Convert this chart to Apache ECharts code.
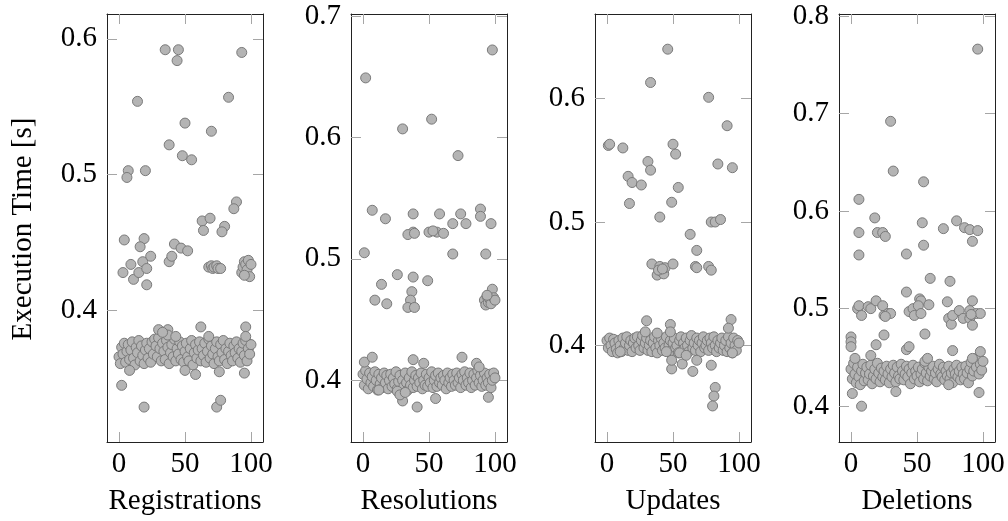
<!DOCTYPE html>
<html>
<head>
<meta charset="utf-8">
<script src="https://cdn.jsdelivr.net/npm/echarts@6/dist/echarts.min.js"></script>
<style>
html, body { margin: 0; padding: 0; background: #fff; }
#chart { width: 1008px; height: 521px; }
</style>
</head>
<body>
<div id="chart"></div>
<script>
// panel names (x axis titles)
const panelNames = ['Registrations', 'Resolutions', 'Updates', 'Deletions'];
const yAxisTitle = 'Execution Time [s]';
// tick labels
const xTicks = [0, 50, 100];
const yTicks = [
    [0.4, 0.5, 0.6],
    [0.4, 0.5, 0.6, 0.7],
    [0.4, 0.5, 0.6],
    [0.4, 0.5, 0.6, 0.7, 0.8]
];

// main band, one value per run 0..100
const regBand = [
    0.366,0.361,0.373,0.368,0.376,0.362,0.370,0.375,0.364,0.371,
    0.377,0.365,0.360,0.373,0.369,0.378,0.363,0.374,0.367,0.361,
    0.371,0.376,0.365,0.372,0.362,0.377,0.368,0.379,0.374,0.366,
    0.380,0.372,0.363,0.376,0.370,0.364,0.378,0.373,0.361,0.369,
    0.375,0.366,0.379,0.363,0.372,0.368,0.377,0.364,0.374,0.362,
    0.370,0.376,0.366,0.363,0.372,0.378,0.360,0.369,0.375,0.365,
    0.371,0.377,0.363,0.372,0.367,0.376,0.362,0.370,0.379,0.365,
    0.374,0.368,0.361,0.372,0.377,0.366,0.363,0.375,0.369,0.378,
    0.364,0.372,0.361,0.370,0.376,0.367,0.363,0.374,0.369,0.377,
    0.365,0.372,0.362,0.370,0.376,0.367,0.378,0.363,0.372,0.368,
    0.375
];
// [run, seconds]
const regOut = [
    [35,0.592],[45,0.592],[44,0.584],[93,0.590],[14,0.554],[83,0.557],[50,0.538],[70,0.532],
    [38,0.522],[48,0.514],[55,0.511],[7,0.503],[6,0.498],[20,0.503],[89,0.480],[87,0.475],
    [63,0.466],[69,0.468],[80,0.462],[64,0.459],[78,0.458],[4,0.452],[19,0.453],[16,0.447],
    [9,0.434],[3,0.428],[11,0.423],[15,0.428],[18,0.436],[21,0.431],[24,0.440],[21,0.419],
    [38,0.436],[40,0.440],[42,0.449],[47,0.446],[52,0.444],[68,0.432],[70,0.433],[71,0.431],
    [72,0.432],[74,0.433],[75,0.431],[77,0.431],[93,0.428],[94,0.432],[95,0.436],[96,0.434],
    [97,0.430],[98,0.437],[99,0.425],[100,0.434],[95,0.426],
    [2,0.345],[19,0.329],[74,0.329],[77,0.334],[8,0.356],[50,0.356],[58,0.353],[76,0.355],
    [95,0.354],[30,0.386],[37,0.386],[37,0.382],[62,0.388],[68,0.381],[96,0.388],[43,0.381],
    [33,0.384],[96,0.381]
];

const resBand = [
    0.405,0.396,0.408,0.401,0.393,0.406,0.398,0.403,0.395,0.407,
    0.400,0.392,0.405,0.397,0.402,0.394,0.406,0.398,0.404,0.393,
    0.400,0.405,0.395,0.402,0.397,0.407,0.393,0.399,0.404,0.391,
    0.400,0.395,0.406,0.398,0.392,0.402,0.396,0.407,0.394,0.400,
    0.404,0.395,0.402,0.398,0.406,0.393,0.400,0.396,0.405,0.395,
    0.402,0.398,0.407,0.394,0.400,0.404,0.395,0.406,0.398,0.402,
    0.396,0.404,0.400,0.393,0.406,0.398,0.402,0.395,0.405,0.400,
    0.396,0.406,0.398,0.402,0.394,0.405,0.400,0.407,0.396,0.402,
    0.398,0.406,0.394,0.400,0.405,0.396,0.402,0.408,0.398,0.404,
    0.395,0.400,0.406,0.396,0.402,0.398,0.405,0.394,0.400,0.406,
    0.402
];
const resOut = [
    [2,0.649],[98,0.672],[52,0.615],[30,0.607],[72,0.585],[7,0.540],[17,0.533],[38,0.537],
    [58,0.537],[74,0.537],[89,0.541],[89,0.535],[68,0.529],[78,0.529],[97,0.529],[38,0.522],
    [50,0.522],[56,0.522],[34,0.520],[39,0.521],[53,0.523],[61,0.521],[1,0.505],[68,0.504],
    [93,0.504],[26,0.487],[14,0.479],[38,0.485],[49,0.482],[9,0.466],[18,0.463],[37,0.473],
    [36,0.466],[34,0.460],[39,0.460],[98,0.475],[92,0.466],[93,0.462],[94,0.469],[95,0.464],
    [96,0.467],[97,0.463],[99,0.468],[100,0.466],[94,0.470],
    [1,0.415],[7,0.419],[38,0.417],[46,0.414],[75,0.419],[86,0.414],[88,0.411],[26,0.391],
    [30,0.383],[41,0.378],[55,0.385],[95,0.386],[12,0.392],[28,0.388],[32,0.390]
];

const updBand = [
    0.404,0.398,0.406,0.400,0.395,0.405,0.402,0.397,0.394,0.404,
    0.400,0.395,0.406,0.398,0.402,0.407,0.396,0.400,0.404,0.395,
    0.402,0.406,0.398,0.407,0.400,0.396,0.404,0.408,0.398,0.402,
    0.406,0.396,0.400,0.404,0.395,0.402,0.407,0.398,0.394,0.404,
    0.400,0.406,0.396,0.402,0.398,0.407,0.395,0.400,0.404,0.396,
    0.402,0.406,0.398,0.400,0.394,0.404,0.407,0.396,0.402,0.398,
    0.406,0.400,0.395,0.404,0.408,0.398,0.402,0.396,0.406,0.400,
    0.404,0.395,0.402,0.407,0.398,0.400,0.404,0.396,0.406,0.402,
    0.398,0.407,0.400,0.395,0.404,0.398,0.402,0.406,0.396,0.400,
    0.404,0.395,0.407,0.398,0.402,0.394,0.406,0.400,0.396,0.404,
    0.402
];
const updOut = [
    [46,0.640],[33,0.613],[77,0.601],[91,0.578],[1,0.562],[2,0.563],[12,0.560],[50,0.563],
    [52,0.555],[31,0.549],[33,0.542],[84,0.547],[95,0.544],[16,0.537],[19,0.532],[26,0.530],
    [54,0.528],[17,0.515],[49,0.516],[40,0.504],[79,0.500],[82,0.500],[86,0.502],[63,0.490],
    [68,0.477],[67,0.464],[68,0.463],[77,0.464],[79,0.461],[34,0.466],[38,0.457],[40,0.464],
    [41,0.460],[43,0.458],[44,0.463],[50,0.466],[39,0.461],[42,0.462],
    [30,0.420],[29,0.411],[48,0.417],[48,0.411],[94,0.421],[92,0.414],[38,0.410],[49,0.381],
    [49,0.388],[57,0.385],[65,0.379],[68,0.388],[79,0.384],[82,0.366],[81,0.359],[80,0.351],
    [55,0.394],[95,0.394],[60,0.392],[10,0.395],[45,0.395]
];

const delBand = [
    0.438,0.428,0.444,0.433,0.424,0.440,0.430,0.422,0.436,0.443,
    0.426,0.434,0.440,0.427,0.433,0.442,0.423,0.431,0.438,0.428,
    0.444,0.434,0.425,0.439,0.430,0.436,0.427,0.441,0.433,0.424,
    0.438,0.430,0.442,0.434,0.425,0.440,0.431,0.428,0.443,0.436,
    0.427,0.433,0.441,0.430,0.438,0.423,0.434,0.442,0.428,0.436,
    0.431,0.440,0.425,0.433,0.438,0.428,0.444,0.434,0.426,0.440,
    0.431,0.436,0.441,0.428,0.434,0.425,0.438,0.443,0.433,0.430,
    0.440,0.427,0.436,0.431,0.441,0.428,0.434,0.424,0.438,0.433,
    0.442,0.430,0.436,0.427,0.440,0.433,0.428,0.441,0.434,0.424,
    0.438,0.445,0.431,0.436,0.448,0.440,0.450,0.433,0.443,0.437,
    0.446
];
const delOut = [
    [96,0.766],[30,0.692],[32,0.641],[55,0.630],[6,0.612],[18,0.593],[54,0.588],[80,0.590],
    [70,0.582],[86,0.583],[90,0.581],[96,0.580],[6,0.578],[20,0.578],[24,0.578],[26,0.574],
    [92,0.569],[6,0.555],[42,0.556],[55,0.565],[60,0.531],[75,0.528],[42,0.517],[52,0.510],
    [53,0.508],[59,0.504],[73,0.507],[92,0.508],
    [5,0.500],[6,0.503],[8,0.493],[13,0.502],[15,0.500],[19,0.508],[24,0.503],[25,0.493],
    [28,0.495],[30,0.495],[26,0.492],[44,0.497],[47,0.500],[48,0.493],[51,0.503],[53,0.495],
    [74,0.490],[76,0.484],[77,0.493],[82,0.498],[85,0.490],[90,0.498],[90,0.490],[92,0.483],
    [95,0.495],[98,0.495],[91,0.494],
    [0,0.471],[0,0.466],[0,0.461],[25,0.473],[56,0.474],[19,0.463],[42,0.458],[44,0.461],
    [56,0.446],[58,0.449],[77,0.457],[98,0.456],[3,0.449],[15,0.452],[92,0.449],
    [1,0.413],[8,0.400],[34,0.415],[97,0.414],[74,0.422]
];

const bands = [regBand, resBand, updBand, delBand];
const outliers = [regOut, resOut, updOut, delOut];

// layout
const yRange = [[0.3033, 0.6183], [0.3492, 0.7016], [0.3218, 0.6685], [0.3633, 0.802]];
const font = 'Liberation Serif';
const fs = 29;
const tickColor = '#a6a6a6';

var chart = echarts.init(document.getElementById('chart'));

var grids = [], xAxes = [], yAxes = [], series = [];
for (var i = 0; i < 4; i++) {
    grids.push({ left: 107 + 244 * i, top: 14, width: 156, height: 430 });
    // bottom + mirrored top x axis
    [false, true].forEach(function (top) {
        xAxes.push({
            type: 'value', gridIndex: i, min: -9.1, max: 109.1,
            position: top ? 'top' : 'bottom',
            axisLine: { show: true, onZero: false, lineStyle: { color: '#222', width: 1 } },
            axisTick: { show: true, inside: true, length: 10, customValues: xTicks, lineStyle: { color: tickColor } },
            axisLabel: { show: !top, customValues: xTicks, margin: 8, color: '#000', fontFamily: font, fontSize: fs },
            splitLine: { show: false },
            name: top ? '' : panelNames[i], nameLocation: 'middle', nameGap: 45,
            nameTextStyle: { color: '#000', fontFamily: font, fontSize: fs }
        });
    });
    // left + mirrored right y axis
    [false, true].forEach(function (right) {
        yAxes.push({
            type: 'value', gridIndex: i, min: yRange[i][0], max: yRange[i][1],
            position: right ? 'right' : 'left',
            axisLine: { show: true, onZero: false, lineStyle: { color: '#222', width: 1 } },
            axisTick: { show: true, inside: true, length: 10, customValues: yTicks[i], lineStyle: { color: tickColor } },
            axisLabel: {
                show: !right, customValues: yTicks[i], margin: 10, color: '#000', fontFamily: font, fontSize: fs,
                formatter: function (v) { return v.toFixed(1); }
            },
            splitLine: { show: false }
        });
    });
    var pts = bands[i].map(function (y, run) { return [run, y]; }).concat(outliers[i]);
    series.push({
        type: 'scatter', xAxisIndex: 2 * i, yAxisIndex: 2 * i,
        symbol: 'circle', symbolSize: 10,
        itemStyle: { color: '#b4b4b4', borderColor: '#7a7a7a', borderWidth: 1, opacity: 1 },
        data: pts
    });
}

var option = {
    animation: false,
    backgroundColor: '#fff',
    grid: grids,
    xAxis: xAxes,
    yAxis: yAxes,
    series: series,
    graphic: [{
        type: 'text', x: 23, y: 229, rotation: Math.PI / 2,
        style: { text: yAxisTitle, fontFamily: font, fontSize: fs, fill: '#000', align: 'center', verticalAlign: 'middle' }
    }]
};
chart.setOption(option);
</script>
</body>
</html>
